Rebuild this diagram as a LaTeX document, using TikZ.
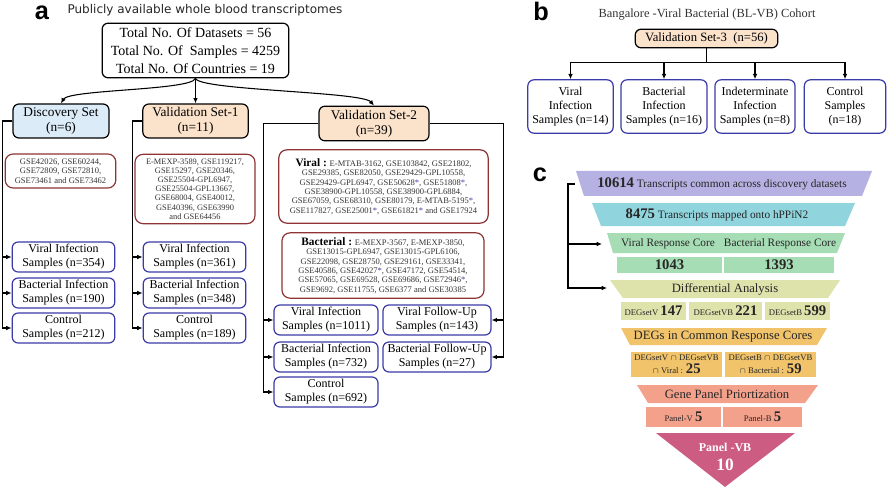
\documentclass[tikz,border=0pt]{standalone}
\usepackage{fontspec}
\setmainfont{Liberation Serif}
\newfontfamily\headfont{DejaVu Sans}
\newfontfamily\tagfont{Liberation Sans}
\usetikzlibrary{arrows.meta,positioning}

\definecolor{setblue}{HTML}{DCEBF8}
\definecolor{setpeach}{HTML}{FBE2CB}
\definecolor{gsered}{HTML}{8E3434}
\definecolor{smpblue}{HTML}{3A3AA8}
\definecolor{fnpurple}{HTML}{B5B1E2}
\definecolor{fnblue}{HTML}{90D4DE}
\definecolor{fngreen}{HTML}{A6DDB5}
\definecolor{fnkhaki}{HTML}{DEE2AB}
\definecolor{fnorange}{HTML}{F1C36A}
\definecolor{fnsalmon}{HTML}{F4A18C}
\definecolor{fncrimson}{HTML}{CD5C82}

\newcommand{\bluestar}{\textcolor{smpblue}{*}}
\newcommand{\bignum}[1]{{\bfseries\fontsize{11}{11}\selectfont #1}}

\tikzset{
  arr/.style={-{Latex[length=4pt,width=3.5pt]}, line width=0.8pt},
  setbox/.style={draw, rounded corners=4.5pt, line width=0.9pt, align=center,
    font=\fontsize{10}{11.5}\selectfont, inner sep=1pt},
  gsebox/.style={draw=gsered, rounded corners=6pt, line width=0.9pt, align=center,
    font=\fontsize{6.4}{7.1}\selectfont, inner sep=1pt, text=black!80},
  smpbox/.style={draw=smpblue, rounded corners=4.5pt, line width=0.9pt, align=center,
    font=\fontsize{9}{10.5}\selectfont, inner sep=1pt, minimum height=22.5pt},
  tag/.style={font=\tagfont\bfseries\fontsize{19}{19}\selectfont},
  layer/.style={align=center, inner sep=0pt, text=black!85, font=\fontsize{8.5}{9}\selectfont},
  cell/.style={inner sep=0pt, align=center, text=black!85, font=\fontsize{6.5}{8}\selectfont}
}

\begin{document}
\begin{tikzpicture}[x=0.75pt, y=-0.75pt]
  \useasboundingbox (0,0) rectangle (887,488);

  % panel a
  \node[tag] (tagA) at (42,13) {a};
  \node[font=\headfont\fontsize{9}{10}\selectfont, text=black!85] (titleA) at (205,10) {Publicly available whole blood transcriptomes};
  \node[setbox, minimum width=140pt, minimum height=41pt, font=\fontsize{10.5}{13.5}\selectfont]
    (total) at (195.5,50.5) {Total No. Of Datasets = 56\\Total No. Of\ \ Samples = 4259\\Total No. Of Countries = 19};

  \node[setbox, fill=setblue,  minimum width=72pt,   minimum height=25.5pt] (disc) at (61,121)    {Discovery Set\\(n=6)};
  \node[setbox, fill=setpeach, minimum width=79pt,   minimum height=25.5pt] (vs1)  at (195.5,121) {Validation Set-1\\(n=11)};
  \node[setbox, fill=setpeach, minimum width=82.5pt, minimum height=26pt]   (vs2)  at (374,123.5) {Validation Set-2\\(n=39)};

  \node[gsebox, minimum width=83pt, minimum height=25.5pt] (gse1) at (60.5,171)
    {GSE42026, GSE60244,\\GSE72809, GSE72810,\\GSE73461 and GSE73462};
  \node[gsebox, minimum width=90pt, minimum height=52pt, font=\fontsize{6.3}{6.9}\selectfont] (gse2) at (195,189)
    {E-MEXP-3589, GSE119217,\\GSE15297, GSE20346,\\GSE25504-GPL6947,\\GSE25504-GPL13667,\\GSE68004, GSE40012,\\GSE40396, GSE63990\\and GSE64456};
  \node[gsebox, minimum width=157pt, minimum height=55pt] (gsev) at (383.5,186.5)
    {\textcolor{black}{\bfseries\fontsize{8.5}{8.5}\selectfont Viral :} E-MTAB-3162, GSE103842, GSE21802,\\
     GSE29385, GSE82050, GSE29429-GPL10558,\\
     GSE29429-GPL6947, GSE50628\bluestar, GSE51808\bluestar,\\
     GSE38900-GPL10558, GSE38900-GPL6884,\\
     GSE67059, GSE68310, GSE80179, E-MTAB-5195\bluestar,\\
     GSE117827, GSE25001\bluestar, GSE61821\bluestar{} and GSE17924};
  \node[gsebox, minimum width=151.5pt, minimum height=49pt] (gseb) at (383,265.5)
    {\textcolor{black}{\bfseries\fontsize{8.5}{8.5}\selectfont Bacterial :} E-MEXP-3567, E-MEXP-3850,\\
     GSE13015-GPL6947, GSE13015-GPL6106,\\
     GSE22098, GSE28750, GSE29161, GSE33341,\\
     GSE40586, GSE42027\bluestar, GSE47172, GSE54514,\\
     GSE57065, GSE69528, GSE69686, GSE72946\bluestar,\\
     GSE9692, GSE11755, GSE6377 and GSE30385};

  \node[smpbox, minimum width=77pt] (v1) at (63.5,257) {Viral Infection\\Samples (n=354)};
  \node[smpbox, minimum width=77pt] (b1) at (63.5,293) {Bacterial Infection\\Samples (n=190)};
  \node[smpbox, minimum width=77pt] (c1) at (63.5,328) {Control\\Samples (n=212)};
  \node[smpbox, minimum width=77pt] (v2) at (194.5,257) {Viral Infection\\Samples (n=361)};
  \node[smpbox, minimum width=77pt] (b2) at (194.5,293) {Bacterial Infection\\Samples (n=348)};
  \node[smpbox, minimum width=77pt] (c2) at (194.5,328) {Control\\Samples (n=189)};
  \node[smpbox, minimum width=78pt] (v3) at (326,320) {Viral Infection\\Samples (n=1011)};
  \node[smpbox, minimum width=78pt] (b3) at (326,357) {Bacterial Infection\\Samples (n=732)};
  \node[smpbox, minimum width=78pt] (c3) at (326,392) {Control\\Samples (n=692)};
  \node[smpbox, minimum width=81pt] (vf) at (437,320) {Viral Follow-Up\\Samples (n=143)};
  \node[smpbox, minimum width=81pt] (bf) at (437,357) {Bacterial Follow-Up\\Samples (n=27)};

  \draw[arr] (total.south) .. controls +(-4,12) and +(8,-14) .. (disc.north);
  \draw[arr] (total.south) -- (vs1.north);
  \draw[arr] (total.south) .. controls +(4,12) and +(-12,-14) .. (vs2.north);
  \foreach \n in {v1,b1,c1} \draw[arr] (disc.west) -- ++(-10,0) |- (\n.west);
  \foreach \n in {v2,b2,c2} \draw[arr] (vs1.west) -- ++(-10,0) |- (\n.west);
  \foreach \n in {v3,b3,c3} \draw[arr] (vs2.west) -- ++(-55,0) |- (\n.west);
  \foreach \n in {vf,bf}    \draw[arr] (vs2.east) -- ++(74,0) |- (\n.east);

  % panel b
  \node[tag] (tagB) at (541,11) {b};
  \node[font=\fontsize{9.3}{10}\selectfont, text=black!80] (titleB) at (707,15) {Bangalore -Viral Bacterial (BL-VB) Cohort};
  \node[setbox, fill=setpeach, minimum width=107pt, minimum height=14pt, font=\fontsize{9.5}{10}\selectfont]
    (vs3) at (706.5,38.5) {Validation Set-3\ \ (n=56)};
  \node[smpbox, minimum width=64pt,   minimum height=40pt] (bv) at (570.5,106.5) {Viral\\Infection\\Samples (n=14)};
  \node[smpbox, minimum width=64.5pt, minimum height=40pt] (bb) at (664,106.5)   {Bacterial\\Infection\\Samples (n=16)};
  \node[smpbox, minimum width=60pt,   minimum height=40pt] (bi) at (755,106.5)   {Indeterminate\\Infection\\Samples (n=8)};
  \node[smpbox, minimum width=61pt,   minimum height=40pt] (bc) at (845,106.5)   {Control\\Samples\\(n=18)};
  \foreach \n in {bv,bb,bi,bc} \draw[arr] (vs3.south) -- ++(0,14.5) -| (\n.north);

  % panel c
  \node[tag] (tagC) at (540,175) {c};
  \fill[fnpurple] (576,171) -- (872,171) -- (862,196) -- (584,196) -- cycle;
  \node[layer] (l1) at (722,184) {\bignum{10614} Transcripts common across discovery datasets};
  \fill[fnblue] (592,203) -- (855,203) -- (845,226) -- (601,226) -- cycle;
  \node[layer] (l2) at (717,215) {\bignum{8475} Transcripts mapped onto hPPiN2};
  \fill[fngreen] (607,233) -- (845,233) -- (837,253) -- (613,253) -- cycle;
  \node[layer] (vrc) at (668,244) {Viral Response Core};
  \node[layer] (brc) at (780,244) {Bacterial Response Core};
  \node[cell, fill=fngreen, minimum width=78.75pt, minimum height=12pt] (n1043) at (669.5,265) {\bignum{1043}};
  \node[cell, fill=fngreen, minimum width=82.5pt,  minimum height=12pt] (n1393) at (779,265)   {\bignum{1393}};

  \fill[fnkhaki] (610,280) -- (840,280) -- (828,298) -- (623,298) -- cycle;
  \node[layer, font=\fontsize{9.5}{10}\selectfont] (diff) at (725,289) {Differential Analysis};
  \node[cell, fill=fnkhaki, minimum width=48.75pt, minimum height=13.5pt] (dv)  at (653.5,311) {DEGsetV \bignum{147}};
  \node[cell, fill=fnkhaki, minimum width=54.75pt, minimum height=13.5pt] (dvb) at (725.5,311) {DEGsetVB \bignum{221}};
  \node[cell, fill=fnkhaki, minimum width=48.75pt, minimum height=13.5pt] (db)  at (797.5,311) {DEGsetB \bignum{599}};

  \fill[fnorange] (621,328) -- (827,328) -- (817,345) -- (630,345) -- cycle;
  \node[layer, font=\fontsize{9.5}{10}\selectfont] (degs) at (723,337) {DEGs in Common Response Cores};
  \node[cell, fill=fnorange, minimum width=68.25pt, minimum height=18.75pt, font=\fontsize{6.5}{10}\selectfont]
    (cv) at (676.5,364.5) {DEGsetV $\cap$ DEGsetVB\\$\cap$ Viral : \bignum{25}};
  \node[cell, fill=fnorange, minimum width=68.25pt, minimum height=18.75pt, font=\fontsize{6.5}{10}\selectfont]
    (cb) at (770.5,364.5) {DEGsetB $\cap$ DEGsetVB\\$\cap$ Bacterial : \bignum{59}};

  \fill[fnsalmon] (637,385) -- (818,385) -- (805,403) -- (648,403) -- cycle;
  \node[layer, font=\fontsize{9.5}{10}\selectfont] (gpp) at (727,394) {Gene Panel Priortization};
  \node[cell, fill=fnsalmon, minimum width=56.25pt, minimum height=15pt] (pv) at (683.5,417) {Panel-V \bignum{5}};
  \node[cell, fill=fnsalmon, minimum width=59.25pt, minimum height=15pt] (pb) at (762.5,417) {Panel-B \bignum{5}};

  \fill[fncrimson] (656,433) -- (795,433) -- (725,487) -- cycle;
  \node[text=white, font=\bfseries\fontsize{9}{10}\selectfont] (pvb) at (725,447) {Panel -VB};
  \node[text=white, font=\bfseries\fontsize{13}{13}\selectfont] (p10) at (725,465) {10};

  \coordinate (brk) at (575,184);
  \coordinate (brkMid) at (568,244);
  \coordinate (toVRC) at (602,244);
  \coordinate (toDA) at (607,288);
  \draw[arr] (brk) -- ++(-7,0) |- (toDA);
  \draw[arr] (brkMid) -- (toVRC);
\end{tikzpicture}
\end{document}
